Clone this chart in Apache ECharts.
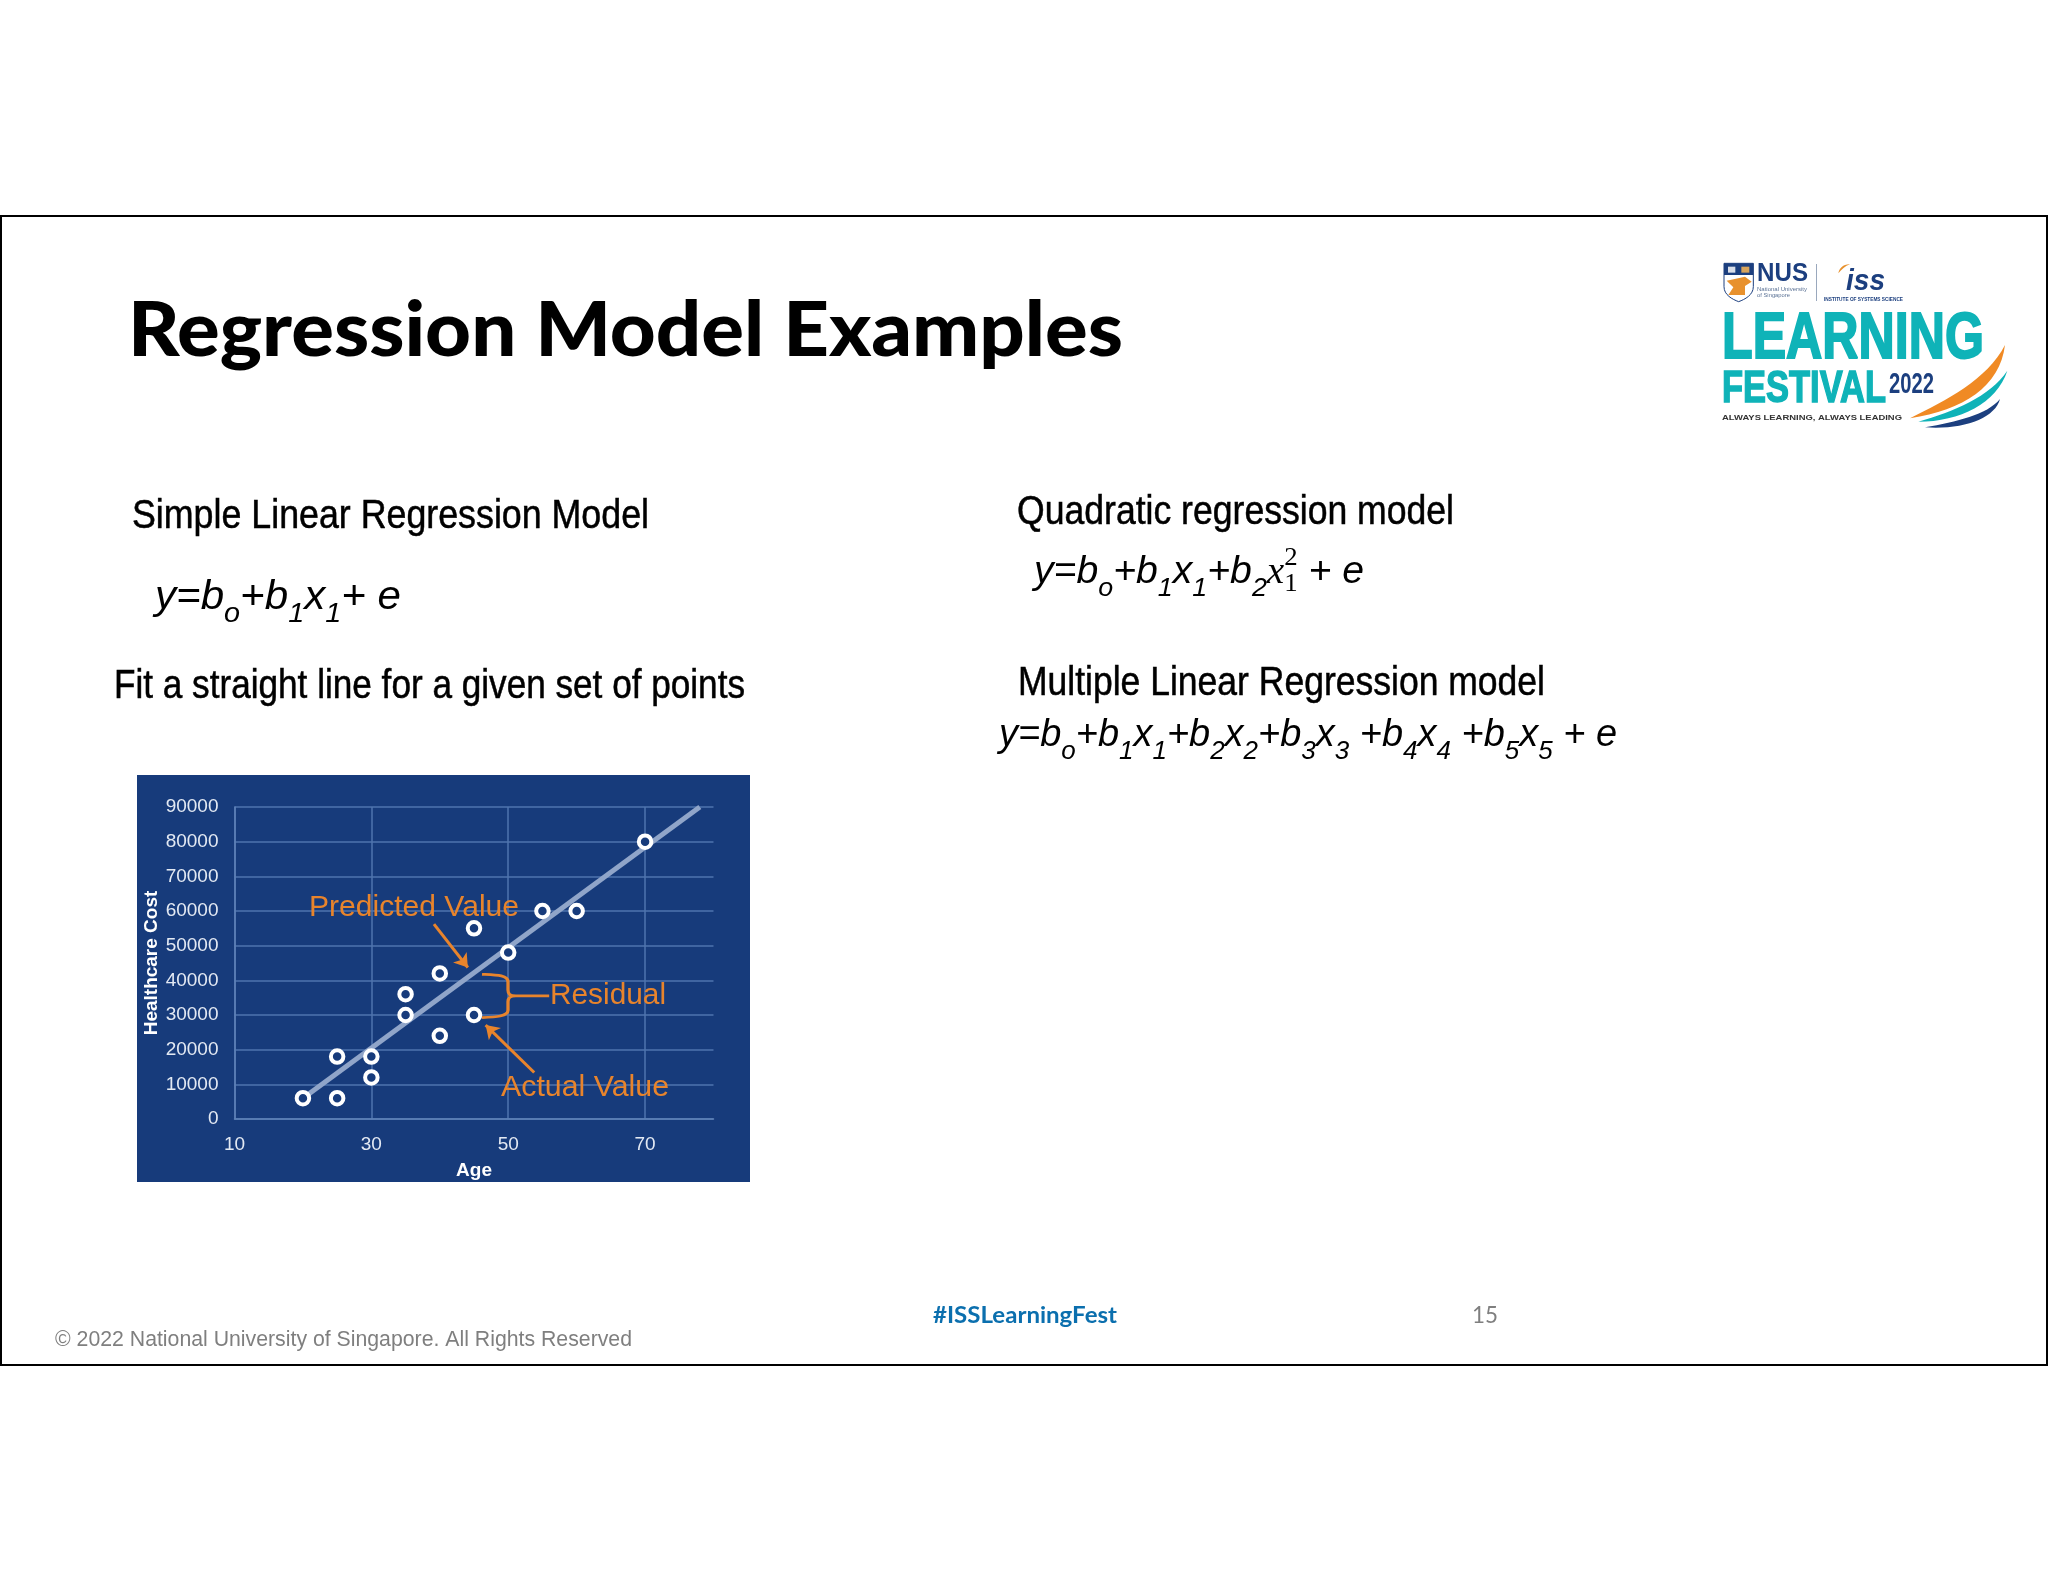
<!DOCTYPE html>
<html>
<head>
<meta charset="utf-8">
<style>html,body{margin:0;padding:0;background:#fff}#main{width:2048px;height:1582px}</style>
<script src="https://cdn.jsdelivr.net/npm/echarts@6/dist/echarts.min.js"></script>
</head>
<body>
<div id="main"></div>
<script>
// 图表数据
var ages = [20, 25, 25, 30, 30, 35, 35, 40, 40, 45, 45, 50, 55, 60, 70];
var costs = [6000, 6000, 18000, 18000, 12000, 30000, 36000, 24000, 42000, 30000, 55000, 48000, 60000, 60000, 80000];
var fitAges = [20, 78];
var fitCosts = [6000, 90000];
var predictedArrow = [[39.15, 56200], [44.1, 43700]];
var actualArrow = [[53.8, 13400], [46.7, 27100]];

var FONT = '"Liberation Sans", Arial, sans-serif';
var measureCtx = document.createElement('canvas').getContext('2d');
var items = [];
var pathCount = 0;

// 文字按目标宽度横向缩放，y 是基线位置; heavy 是加粗描边
function fitText(text, x, y, width, font, fill, z, heavy) {
    measureCtx.font = font;
    var w = measureCtx.measureText(text).width;
    var size = parseFloat(/([\d.]+)px/.exec(font)[1]);
    var style = {text: text, font: font, fill: fill, textAlign: 'left', verticalAlign: 'middle'};
    if (heavy) {
        style.stroke = fill;
        style.lineWidth = heavy;
    }
    items.push({type: 'text', x: x, y: y - size * 0.35, scaleX: width / w, z: z || 5, style: style});
}

// 路径坐标是截图放大后的坐标，这里换回页面坐标
function pathEl(d, ox, oy, kx, ky, style, z) {
    var name = 'slidePath' + (pathCount++);
    echarts.graphic.registerShape(name, echarts.graphic.extendPath(d, {}));
    style.strokeNoScale = true;
    items.push({type: name, x: ox, y: oy, scaleX: 1 / kx, scaleY: 1 / ky, z: z || 5, style: style});
}

// 公式: 分段排版，下标/上标单独一段
function formula(parts, x, baseline, width, size) {
    var subSize = Math.round(size * 0.68);
    var total = 0, i;
    function fontOf(p) {
        if (p[1] === 'math') return 'italic ' + size + 'px "Liberation Serif", serif';
        if (p[1] === 'stack') return subSize + 'px "Liberation Serif", serif';
        return 'italic ' + (p[1] ? subSize : size) + 'px ' + FONT;
    }
    function adv(p) {
        measureCtx.font = fontOf(p);
        return measureCtx.measureText(p[0]).width;
    }
    for (i = 0; i < parts.length; i++) total += adv(parts[i]);
    var k = width / total;
    var cur = x;
    parts.forEach(function (p) {
        var dy = p[1] ? size * 0.3 : 0;
        if (p[1] === 'math') dy = 0;
        if (p[1] === 'stack') {
            items.push({type: 'text', x: cur, y: baseline - size * 0.48 - subSize * 0.35, scaleX: k, z: 5,
                style: {text: p[2], font: fontOf(p), fill: '#000', verticalAlign: 'middle'}});
            dy = size * 0.2;
        }
        var s = p[1] && p[1] !== 'math' ? subSize : size;
        items.push({type: 'text', x: cur, y: baseline + dy - s * 0.35, scaleX: k, z: 5,
            style: {text: p[0], font: fontOf(p), fill: '#000', textAlign: 'left', verticalAlign: 'middle'}});
        cur += adv(p) * k;
    });
}

// 幻灯片边框
items.push({type: 'rect', z: -2, shape: {x: 1, y: 216, width: 2046, height: 1149},
    style: {fill: '#fff', stroke: '#000', lineWidth: 2}});
// 图表底色
items.push({type: 'rect', z: -1, shape: {x: 137, y: 775, width: 613, height: 407},
    style: {fill: '#173b7b'}});

// 标题和正文
fitText('Regression Model Examples', 128, 358, 995, '900 76px Lato, sans-serif', '#000');
fitText('Simple Linear Regression Model', 132, 531, 517, '40px ' + FONT, '#000', 5, 0.5);
fitText('Fit a straight line for a given set of points', 114, 701, 631, '40px ' + FONT, '#000', 5, 0.5);
fitText('Quadratic regression model', 1017, 527, 437, '40px ' + FONT, '#000', 5, 0.5);
fitText('Multiple Linear Regression model', 1018, 698, 527, '40px ' + FONT, '#000', 5, 0.5);

formula([['y=b'], ['o', 1], ['+b'], ['1', 1], ['x'], ['1', 1], ['+ e']], 155, 612, 246, 41);
formula([['y=b'], ['o', 1], ['+b'], ['1', 1], ['x'], ['1', 1], ['+b'], ['2', 1], ['x', 'math'], ['1', 'stack', '2'], [' + e']], 1034, 586, 330, 38);
formula([['y=b'], ['o', 1], ['+b'], ['1', 1], ['x'], ['1', 1], ['+b'], ['2', 1], ['x'], ['2', 1], ['+b'], ['3', 1], ['x'], ['3', 1],
    [' +b'], ['4', 1], ['x'], ['4', 1], [' +b'], ['5', 1], ['x'], ['5', 1], [' + e']], 999, 749, 618, 38);

// 页脚
fitText('© 2022 National University of Singapore. All Rights Reserved', 55, 1348, 577, '22px ' + FONT, '#7f7f7f');
fitText('#ISSLearningFest', 933, 1324, 184, 'bold 23px Lato, sans-serif', '#0b6fae');
fitText('15', 1472, 1324, 26, '24px Lato, sans-serif', '#7f7f7f');

// 图内标注
var ORANGE = '#e8842c';
fitText('Predicted Value', 309, 918, 210, '30px ' + FONT, ORANGE, 6);
fitText('Residual', 550, 1006, 116, '30px ' + FONT, ORANGE, 6);
fitText('Actual Value', 501, 1098, 168, '30px ' + FONT, ORANGE, 6);
pathEl('M880 608 C915 610 945 610 945 630 L945 655 C945 668 950 672 965 672 L1048 672 M965 672 C950 672 945 678 945 690 L945 715 C945 733 915 735 880 737',
    130, 770, 2.5, 2.976, {fill: 'none', stroke: ORANGE, lineWidth: 3}, 6);

// 右上角标志
var LX = 1700, LY = 240;
var NAVY = '#1c3f7f', TEAL = '#0fb3b8';
pathEl('M72 70 L160 70 L160 140 C160 165 135 178 116 185 C97 178 72 165 72 140 Z', LX, LY, 3, 3, {fill: '#fff', stroke: NAVY, lineWidth: 1});
pathEl('M72 70 L160 70 L160 105 L72 105 Z', LX, LY, 3, 3, {fill: NAVY});
pathEl('M84 80 L106 80 L106 98 L84 98 Z', LX, LY, 3, 3, {fill: '#d9dee8'});
pathEl('M124 80 L148 80 L148 98 L124 98 Z', LX, LY, 3, 3, {fill: '#d8a45c'});
pathEl('M80 122 L135 110 L155 125 L135 138 L135 165 L85 165 L100 142 Z', LX, LY, 3, 3, {fill: '#e8912d'});
fitText('NUS', 1757, 283, 51, 'bold 25px ' + FONT, NAVY);
fitText('National University', 1757, 291, 50, '6px ' + FONT, '#5c7396');
fitText('of Singapore', 1757, 297, 33, '6px ' + FONT, '#5c7396');
items.push({type: 'rect', z: 5, shape: {x: 1816, y: 264, width: 1, height: 37}, style: {fill: '#9aa8bd'}});
fitText('iss', 1846, 292, 39, 'italic bold 30px ' + FONT, NAVY);
pathEl('M415 100 C418 85 430 72 450 73 C435 78 425 88 415 100 Z', LX, LY, 3, 3, {fill: '#e8912d'});
fitText('INSTITUTE OF SYSTEMS SCIENCE', 1824, 301, 79, 'bold 5px ' + FONT, NAVY);
fitText('LEARNING', 1722, 363, 262, 'bold 65px "Liberation Sans Narrow", ' + FONT, TEAL, 5, 2);
fitText('FESTIVAL', 1722, 405, 164, 'bold 45px "Liberation Sans Narrow", ' + FONT, TEAL, 5, 1.5);
fitText('2022', 1889, 395, 45, 'bold 29px "Liberation Sans Narrow", ' + FONT, NAVY);
fitText('ALWAYS LEARNING, ALWAYS LEADING', 1722, 421, 180, 'bold 8px ' + FONT, '#333');
pathEl('M630 535 C740 480 860 420 915 315 C900 440 790 510 630 535 Z', LX, LY, 3, 3, {fill: '#f08a24'});
pathEl('M655 545 C760 515 870 470 922 392 C890 490 780 545 655 545 Z', LX, LY, 3, 3, {fill: TEAL});
pathEl('M675 562 C770 545 860 525 900 477 C885 535 790 570 675 562 Z', LX, LY, 3, 3, {fill: NAVY});

var option = {
    animation: false,
    backgroundColor: '#fff',
    grid: {left: 234.5, top: 807, width: 479, height: 312},
    xAxis: {
        type: 'value', min: 10, max: 80, interval: 20,
        name: 'Age', nameLocation: 'middle', nameGap: 42,
        nameTextStyle: {color: '#fff', fontFamily: FONT, fontWeight: 'bold', fontSize: 19},
        axisLine: {lineStyle: {color: '#5f82b8', width: 1.5}},
        axisTick: {show: false},
        axisLabel: {color: '#e3e9f3', fontFamily: FONT, fontSize: 19, margin: 16, showMaxLabel: false},
        splitLine: {show: true, showMaxLine: false, lineStyle: {color: '#4f74ae', width: 1.5}}
    },
    yAxis: {
        type: 'value', min: 0, max: 90000, interval: 10000,
        name: 'Healthcare Cost', nameLocation: 'middle', nameGap: 65,
        nameTextStyle: {color: '#fff', fontFamily: FONT, fontWeight: 'bold', fontSize: 19},
        axisLine: {show: true, lineStyle: {color: '#5f82b8', width: 1.5}},
        axisTick: {show: false},
        axisLabel: {
            color: '#e3e9f3', fontFamily: FONT, fontSize: 19, margin: 16,
            formatter: function (v) { return String(v); }
        },
        splitLine: {show: true, lineStyle: {color: '#4f74ae', width: 1.5}}
    },
    series: [{
        name: 'fit',
        type: 'line',
        data: fitAges.map(function (a, i) { return [a, fitCosts[i]]; }),
        symbol: 'none',
        z: 3,
        lineStyle: {color: '#90a5c9', width: 5},
        markLine: {
            silent: true,
            symbol: ['none', 'arrow'],
            symbolSize: 13,
            label: {show: false},
            lineStyle: {color: ORANGE, width: 3, type: 'solid'},
            data: [
                [{coord: predictedArrow[0]}, {coord: predictedArrow[1]}],
                [{coord: actualArrow[0]}, {coord: actualArrow[1]}]
            ]
        }
    }, {
        name: 'cost',
        type: 'scatter',
        data: ages.map(function (a, i) { return [a, costs[i]]; }),
        symbol: 'circle',
        symbolSize: 12.5,
        z: 4,
        itemStyle: {color: '#173b7b', borderColor: '#fff', borderWidth: 4, opacity: 1}
    }],
    graphic: {elements: items}
};

var myChart = echarts.init(document.getElementById('main'));
myChart.setOption(option);
</script>
</body>
</html>
